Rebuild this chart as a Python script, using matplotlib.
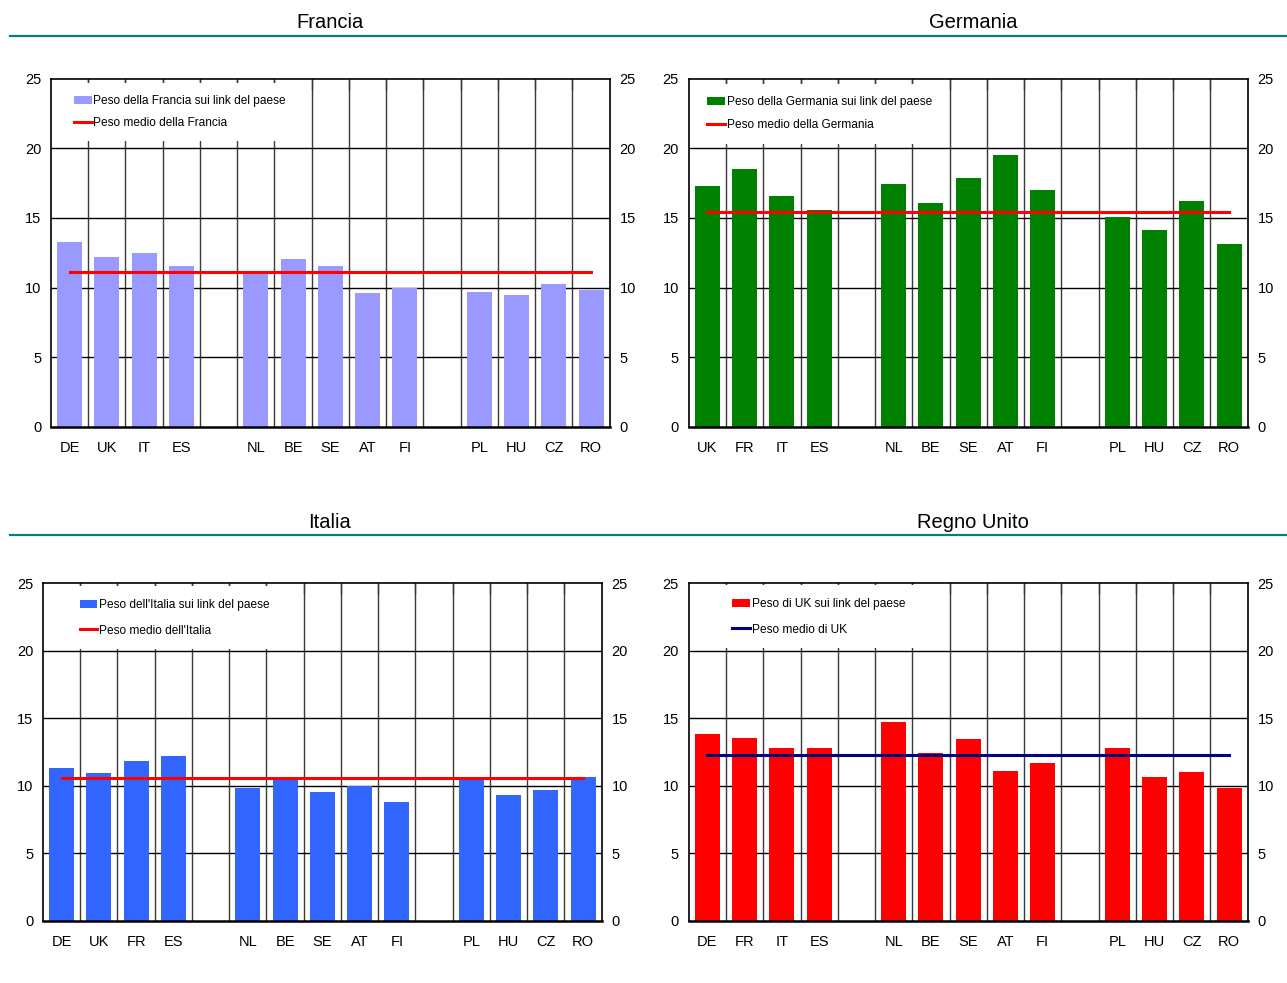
import matplotlib
matplotlib.use('Agg')
import matplotlib.pyplot as plt
import numpy as np

plt.rcParams['font.family'] = ['Liberation Sans', 'DejaVu Sans']

# DATA (blank strings are the empty slots between country groups)
fr_labels = ['DE', 'UK', 'IT', 'ES', '', 'NL', 'BE', 'SE', 'AT', 'FI', '', 'PL', 'HU', 'CZ', 'RO']
fr_values = [13.25, 12.2, 12.5, 11.55, None, 11.0, 12.05, 11.55, 9.6, 10.0, None, 9.7, 9.45, 10.25, 9.8]
fr_mean = 11.1

de_labels = ['UK', 'FR', 'IT', 'ES', '', 'NL', 'BE', 'SE', 'AT', 'FI', '', 'PL', 'HU', 'CZ', 'RO']
de_values = [17.3, 18.5, 16.6, 15.6, None, 17.45, 16.05, 17.85, 19.5, 17.0, None, 15.05, 14.1, 16.2, 13.1]
de_mean = 15.4

it_labels = ['DE', 'UK', 'FR', 'ES', '', 'NL', 'BE', 'SE', 'AT', 'FI', '', 'PL', 'HU', 'CZ', 'RO']
it_values = [11.3, 10.95, 11.85, 12.2, None, 9.85, 10.55, 9.55, 10.0, 8.8, None, 10.65, 9.3, 9.7, 10.65]
it_mean = 10.55

uk_labels = ['DE', 'FR', 'IT', 'ES', '', 'NL', 'BE', 'SE', 'AT', 'FI', '', 'PL', 'HU', 'CZ', 'RO']
uk_values = [13.8, 13.55, 12.8, 12.8, None, 14.75, 12.45, 13.5, 11.1, 11.7, None, 12.8, 10.65, 11.05, 9.85]
uk_mean = 12.3

W, H = 1287, 983
fig = plt.figure(figsize=(W / 100, H / 100), dpi=100)


def px_axes(left, right, top, bottom):
    return fig.add_axes([left / W, 1 - bottom / H, (right - left) / W, (bottom - top) / H])


def panel(ax, labels, values, mean, bar_col, line_col, bar_lab, line_lab, leg_xy, spacing):
    n = len(labels)
    x = np.arange(n)
    # manual grid, below bars
    for k in range(n - 1):
        ax.axvline(k + 0.5, color='#3a3a3a', lw=1.0, zorder=0.5)
    for yv in [5, 10, 15, 20]:
        ax.axhline(yv, color='black', lw=1.0, zorder=0.5)

    idx = [i for i, v in enumerate(values) if v is not None]
    vals = [values[i] for i in idx]
    bars = ax.bar(idx, vals, width=0.67, color=bar_col, zorder=1)
    line, = ax.plot([0, n - 1], [mean, mean], color=line_col, lw=2.2, zorder=3)

    ax.set_xlim(-0.5, n - 0.5)
    ax.set_ylim(0, 25)
    ax.set_yticks([0, 5, 10, 15, 20, 25])
    ax.set_xticks(x)
    ax.set_xticklabels(labels)
    ax.set_xticks(np.arange(n - 1) + 0.5, minor=True)
    ax.tick_params(axis='x', which='major', length=0, pad=10.5, labelsize=10.5)
    ax.tick_params(axis='x', which='minor', bottom=False, top=True, direction='in',
                   length=8, width=1.0, color='#3a3a3a')
    ax.tick_params(axis='y', length=0, pad=7, labelsize=10.5, labelright=True)
    for s in ['top', 'left', 'right']:
        ax.spines[s].set_linewidth(1.2)
    ax.spines['bottom'].set_linewidth(1.8)

    leg = ax.legend([bars, line], [bar_lab, line_lab], loc='upper left',
                    bbox_to_anchor=leg_xy, fontsize=8.6,
                    frameon=True, facecolor='white', edgecolor='none', framealpha=1,
                    fancybox=False, borderaxespad=0, borderpad=1.05,
                    handlelength=1.5, handleheight=0.68, handletextpad=0.15,
                    labelspacing=spacing)
    leg.set_zorder(2)


ax1 = px_axes(51, 609.7, 78.7, 426.7)
panel(ax1, fr_labels, fr_values, fr_mean, '#9999ff', '#ff0000',
      'Peso della Francia sui link del paese', 'Peso medio della Francia',
      (0.018, 1.0 - 4 / 348), 0.8)

ax2 = px_axes(688.7, 1247.7, 78.7, 426.7)
panel(ax2, de_labels, de_values, de_mean, '#008000', '#ff0000',
      'Peso della Germania sui link del paese', 'Peso medio della Germania',
      (0.01, 1.0 - 5 / 348), 0.9)

ax3 = px_axes(43, 601.7, 583.3, 920.7)
panel(ax3, it_labels, it_values, it_mean, '#3366ff', '#ff0000',
      "Peso dell'Italia sui link del paese", "Peso medio dell'Italia",
      (0.043, 1.0 - 3 / 337), 1.15)

ax4 = px_axes(688.7, 1247.7, 583.3, 920.7)
panel(ax4, uk_labels, uk_values, uk_mean, '#ff0000', '#000080',
      'Peso di UK sui link del paese', 'Peso medio di UK',
      (0.055, 1.0 - 2 / 337), 1.15)

# titles and teal rules
for txt, xc, yc in [('Francia', 330, 22), ('Germania', 973, 22),
                    ('Italia', 330, 522), ('Regno Unito', 973, 522)]:
    fig.text(xc / W, 1 - yc / H, txt, ha='center', va='center', fontsize=14.5)
for yl in [36, 535]:
    fig.add_artist(plt.Line2D([10 / W, 1.0], [1 - yl / H, 1 - yl / H],
                              color='#008080', lw=1.6, transform=fig.transFigure))

fig.savefig('out.png', dpi=100)
